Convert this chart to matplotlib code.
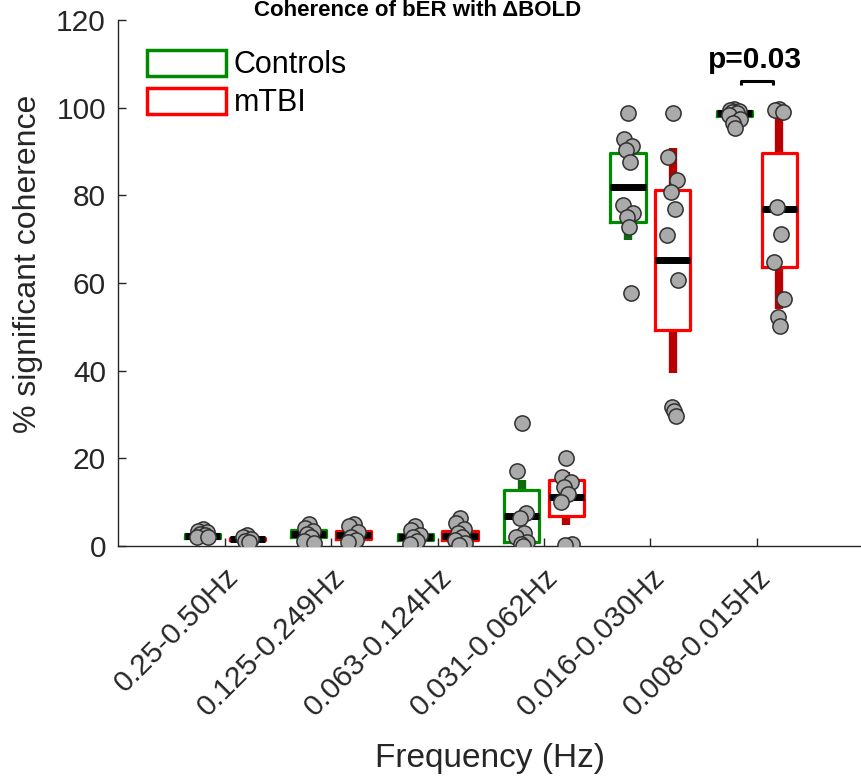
import numpy as np
import matplotlib
matplotlib.use("Agg")
import matplotlib.pyplot as plt
from matplotlib.patches import Patch

# ---------------- data ----------------
categories = ["0.25-0.50Hz", "0.125-0.249Hz", "0.063-0.124Hz",
              "0.031-0.062Hz", "0.016-0.030Hz", "0.008-0.015Hz"]

# box statistics: q1, median, q3, lower whisker, upper whisker
ctrl_q1 = [1.8, 2.2, 1.5, 1.0, 73.9, 98.0]
ctrl_med = [2.3, 2.8, 2.0, 6.9, 81.9, 98.7]
ctrl_q3 = [2.8, 3.6, 2.8, 12.8, 89.7, 99.3]
ctrl_wlo = [1.8, 2.2, 1.5, 1.0, 69.8, 98.0]
ctrl_whi = [2.8, 3.6, 2.8, 15.1, 92.0, 99.5]

tbi_q1 = [1.3, 1.6, 1.4, 6.8, 49.4, 63.7]
tbi_med = [1.6, 2.5, 2.3, 11.1, 65.3, 76.9]
tbi_q3 = [1.9, 3.4, 3.5, 15.2, 81.2, 89.6]
tbi_wlo = [1.3, 1.6, 1.4, 4.8, 39.5, 54.0]
tbi_whi = [1.9, 3.4, 3.5, 17.0, 90.7, 99.5]

# individual subjects
ctrl_points = [
    [3.9, 3.5, 3.2, 2.8, 2.5, 2.2, 2.0],
    [5.0, 4.2, 3.4, 2.8, 2.0, 1.2, 0.8],
    [4.6, 3.6, 2.6, 2.0, 1.2, 0.5],
    [28.1, 17.2, 7.5, 6.5, 3.0, 2.0, 1.0, 0.5, 0.0],
    [98.9, 92.8, 91.3, 90.3, 87.7, 77.8, 75.9, 75.1, 72.9, 57.7],
    [99.8, 99.5, 99.3, 99.0, 98.7, 98.3, 97.5, 96.5, 95.3],
]
tbi_points = [
    [2.5, 2.0, 1.6, 1.2, 0.9],
    [5.1, 4.6, 3.2, 2.2, 1.5, 1.0],
    [6.5, 5.2, 4.0, 3.0, 2.2, 1.5, 0.8, 0.3],
    [20.2, 15.8, 14.7, 13.5, 12.0, 10.1, 0.5, 0.3],
    [98.9, 88.8, 83.5, 80.8, 76.8, 71.0, 60.7, 31.8, 30.8, 29.7],
    [99.8, 99.5, 99.0, 77.4, 71.3, 64.9, 56.3, 52.3, 50.2],
]

group_labels = ["Controls", "mTBI"]
p_text = "p=0.03"
p_group = 6

# ---------------- style ----------------
plt.rcParams['font.family'] = ['Liberation Sans', 'DejaVu Sans']
AX_COL = '#262626'
C_BOX, C_WH = '#008a00', '#0b6b0b'
T_BOX, T_WH = '#ff0000', '#b80000'
OFF, BW = 0.21, 0.33
jitter = [0.0, -0.04, 0.04, -0.02, 0.02, -0.05, 0.05, -0.01, 0.01, 0.03]

fig = plt.figure(figsize=(8.61, 7.78), dpi=100)
ax = fig.add_axes([0.1376, 0.298, 1 - 0.1376, 0.6763])

pos = np.arange(1, len(categories) + 1)


def stats(q1, med, q3, wlo, whi):
    return [dict(q1=a, med=b, q3=c, whislo=d, whishi=e, fliers=[])
            for a, b, c, d, e in zip(q1, med, q3, wlo, whi)]


for st, p, boxc, whc in [
        (stats(ctrl_q1, ctrl_med, ctrl_q3, ctrl_wlo, ctrl_whi), pos - OFF, C_BOX, C_WH),
        (stats(tbi_q1, tbi_med, tbi_q3, tbi_wlo, tbi_whi), pos + OFF, T_BOX, T_WH)]:
    ax.bxp(st, positions=p, widths=BW, showcaps=False, showfliers=False,
           boxprops=dict(color=boxc, linewidth=2.3, zorder=2),
           whiskerprops=dict(color=whc, linewidth=6, solid_capstyle='butt', zorder=1),
           medianprops=dict(color='black', linewidth=5, solid_capstyle='butt', zorder=3),
           manage_ticks=False)

for pts_list, sign in [(ctrl_points, -1), (tbi_points, 1)]:
    for i, pts in enumerate(pts_list):
        xs = [pos[i] + sign * OFF + jitter[k % len(jitter)] for k in range(len(pts))]
        ax.scatter(xs, pts, s=120, facecolor='#aaaaaa', edgecolor='#303030',
                   linewidth=1.1, zorder=4)

# significance bracket
gx = pos[p_group - 1]
ax.plot([gx - 0.15, gx - 0.15, gx + 0.15, gx + 0.15], [105.2, 106.2, 106.2, 105.2],
        color='black', lw=2.2, clip_on=False, solid_capstyle='butt')
ax.text(gx - 0.02, 109.1, p_text, ha='center', va='baseline', fontsize=21.5,
        fontweight='bold', color='black')

ax.set_xlim(0, 6.98)
ax.set_ylim(0, 120)
ax.set_yticks(np.arange(0, 121, 20))
ax.set_xticks(pos)
ax.set_xticklabels(categories, rotation=45, ha='right', va='top',
                   rotation_mode='anchor', fontsize=21.5)
ax.tick_params(axis='y', direction='in', length=6, width=1, pad=9,
               labelsize=21.5, colors=AX_COL)
ax.tick_params(axis='x', direction='in', length=6, width=1, pad=12,
               colors=AX_COL)
for s in ['top', 'right']:
    ax.spines[s].set_visible(False)
for s in ['left', 'bottom']:
    ax.spines[s].set_color(AX_COL)
    ax.spines[s].set_linewidth(1.0)

ax.set_xlabel("Frequency (Hz)", fontsize=24, color=AX_COL, va='baseline')
ax.xaxis.set_label_coords(0.5, -0.42)
ax.set_ylabel("% significant coherence", fontsize=23, color=AX_COL, va='baseline')
ax.yaxis.set_label_coords(-0.111, 0.537)

handles = [Patch(facecolor='white', edgecolor=C_BOX, linewidth=2.5),
           Patch(facecolor='white', edgecolor=T_BOX, linewidth=2.5)]
ax.legend(handles, group_labels, loc='upper left', bbox_to_anchor=(0.038, 0.943),
          frameon=False, fontsize=22, handlelength=2.6, handleheight=0.92,
          handletextpad=0.25, labelspacing=0.25, borderpad=0, borderaxespad=0)

fig.text(0.4855, 1 - 16 / 778, "Coherence of bER with \u0394BOLD", ha='center',
         va='baseline', fontsize=16, fontweight='bold', color='black')

fig.savefig("out.png", dpi=100)
